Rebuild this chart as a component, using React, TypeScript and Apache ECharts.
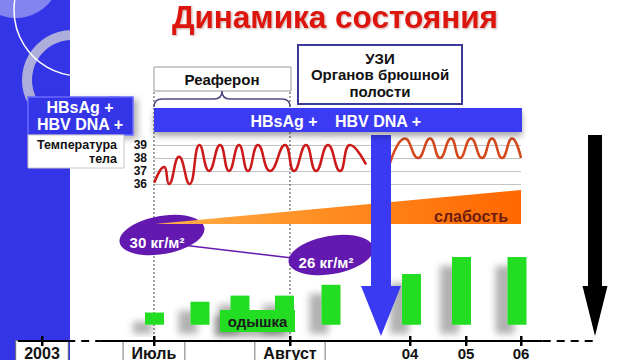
import React, { useEffect, useRef } from 'react';
import * as echarts from 'echarts';

const FONT = '"Liberation Sans", Arial, sans-serif';

// Timeline positions run from 0 to 100 across the slide.
const TICK_POSITIONS = [6.56, 24.06, 45.31, 64.06, 72.81, 81.41];
const TICK_LABELS = ['2003', 'Июль', 'Август', '04', '05', '06'];
const BOXED_TICKS = ['2003', 'Июль', 'Август'];

// Body temperature (°C) before and after the ultrasound examination
const TEMP_BEFORE: [number, number][] = [
  [24.1, 36.1], [25.63, 37.3], [26.41, 36.0], [27.97, 38.1], [29.61, 36.0],
  [31.17, 39.0], [32.66, 37.0], [34.38, 39.0], [35.78, 37.0], [37.34, 39.0],
  [38.75, 37.0], [40.31, 39.0], [42.19, 37.0], [44.53, 39.0], [45.94, 37.0],
  [47.81, 39.0], [49.38, 37.0], [51.25, 39.0], [53.13, 37.0], [54.69, 39.0],
  [57.19, 37.5],
];
const TEMP_AFTER: [number, number][] = [
  [60.94, 37.6], [63.28, 39.5], [65.31, 38.0], [67.19, 39.5], [68.75, 38.0],
  [70.47, 39.5], [71.88, 38.0], [73.59, 39.5], [75.31, 38.0], [76.88, 39.5],
  [78.44, 38.0], [80.0, 39.5], [81.4, 38.0],
];

// Body mass index, kg/m²
const BMI_POSITIONS = [24.53, 50.94];
const BMI_VALUES = [30, 26];

// Weakness, relative intensity
const WEAKNESS_POSITIONS = [24.2, 81.41];
const WEAKNESS_VALUES = [0, 10];

// Shortness of breath, relative severity
const DYSPNEA_POSITIONS = [24.14, 31.25, 37.5, 44.45, 51.72, 64.3, 72.11, 80.78];
const DYSPNEA_VALUES = [1.8, 3.4, 4.3, 4.3, 5.9, 7.5, 10, 10];
const DYSPNEA_MIN = -2.4;

// Event arrows: abdominal ultrasound, then the end of the observed period
const EVENT_POSITIONS = [59.53, 92.97];

// Timeline axis segments: [from, to, dashed]
const AXIS_SEGMENTS: [number, number, number][] = [
  [2.8, 10.5, 0], [10.5, 15.6, 1], [15.6, 84.8, 0], [84.8, 92.7, 1],
];

const SLIDE_W = 640;
const TL_MAX = 100;
const tlPx = (u: number) => (u * SLIDE_W) / TL_MAX;

const TEMP_X_MIN = 24.0625;
const TEMP_X_MAX = 81.40625;

const ARROW_STYLES = [
  { shaft: 20, head: 40, color: '#3a3af2' },
  { shaft: 14, head: 25, color: '#000000' },
];

function txt(x: number, y: number, text: string, size: number, fill: string, align = 'center', z = 12) {
  return {
    type: 'text',
    z,
    x,
    y,
    style: {
      text,
      fill,
      font: `bold ${size}px ${FONT}`,
      textAlign: align,
      textVerticalAlign: 'middle',
      align,
      verticalAlign: 'middle',
    },
  };
}

function buildOption(): any {
  const graphics: any[] = [
    // left decorative band
    { type: 'rect', z: -3, shape: { x: 0, y: 0, width: 70, height: 360 }, style: { fill: '#3535e8' } },
    { type: 'circle', z: -2, shape: { cx: 16, cy: -26, r: 44 }, style: { fill: '#8484f0' } },
    { type: 'ring', z: -2, shape: { cx: 72, cy: 80, r: 50, r0: 40 }, style: { fill: '#aeaedc' } },
    { type: 'circle', z: -2, shape: { cx: 80, cy: 10, r: 66 }, style: { fill: 'transparent', stroke: '#ffffff', lineWidth: 1.5 } },
    { type: 'rect', z: -1, shape: { x: 70, y: 0, width: 80, height: 96 }, style: { fill: '#ffffff' } },

    // Реаферон box and brace
    { type: 'rect', z: 10, shape: { x: 154, y: 67, width: 137, height: 24 }, style: { fill: '#fff', stroke: '#9a9a9a', lineWidth: 1 } },
    txt(222, 79.5, 'Реаферон', 15, '#111'),
    { type: 'bezierCurve', z: 10, shape: { x1: 154, y1: 107, x2: 162, y2: 99, cpx1: 154, cpy1: 99 }, style: { fill: 'transparent', stroke: '#4b4b80', lineWidth: 1.5 } },
    { type: 'line', z: 10, shape: { x1: 162, y1: 99, x2: 214, y2: 99 }, style: { stroke: '#4b4b80', lineWidth: 1.5 } },
    { type: 'bezierCurve', z: 10, shape: { x1: 214, y1: 99, x2: 222, y2: 91, cpx1: 222, cpy1: 99 }, style: { fill: 'transparent', stroke: '#4b4b80', lineWidth: 1.5 } },
    { type: 'bezierCurve', z: 10, shape: { x1: 222, y1: 91, x2: 230, y2: 99, cpx1: 222, cpy1: 99 }, style: { fill: 'transparent', stroke: '#4b4b80', lineWidth: 1.5 } },
    { type: 'line', z: 10, shape: { x1: 230, y1: 99, x2: 282, y2: 99 }, style: { stroke: '#4b4b80', lineWidth: 1.5 } },
    { type: 'bezierCurve', z: 10, shape: { x1: 282, y1: 99, x2: 290, y2: 107, cpx1: 290, cpy1: 99 }, style: { fill: 'transparent', stroke: '#4b4b80', lineWidth: 1.5 } },

    // УЗИ box
    { type: 'rect', z: 10, shape: { x: 298, y: 45, width: 164, height: 59 }, style: { fill: '#fff', stroke: '#3a3a9a', lineWidth: 2 } },
    txt(380, 58, 'УЗИ', 15, '#111'),
    txt(380, 74.5, 'Органов брюшной', 15, '#111'),
    txt(380, 91, 'полости', 15, '#111'),

    // marker boxes on the left
    { type: 'rect', z: 10, shape: { x: 28, y: 97, width: 105, height: 38 }, style: { fill: '#3636e8', stroke: '#6a6aff', lineWidth: 1.5, shadowBlur: 6, shadowColor: 'rgba(0,0,0,0.3)', shadowOffsetX: 4, shadowOffsetY: 3 } },
    txt(80, 107.5, 'HBsAg +', 16, '#ffffff'),
    txt(80, 124, 'HBV DNA +', 16, '#ffffff'),
    { type: 'rect', z: 10, shape: { x: 28, y: 135, width: 96, height: 33 }, style: { fill: '#ffffff', stroke: '#c8c8c8', lineWidth: 1 } },
    txt(117, 144.5, 'Температура', 12.5, '#111', 'right'),
    txt(117, 158.5, 'тела', 12.5, '#111', 'right'),

    // marker bar along the timeline
    { type: 'rect', z: 10, shape: { x: 154, y: 108, width: 368, height: 24 }, style: { fill: '#3a3af4', shadowBlur: 6, shadowColor: 'rgba(0,0,0,0.35)', shadowOffsetY: 4 } },
    txt(284, 121, 'HBsAg +', 16, '#ffffff'),
    txt(378, 121, 'HBV DNA +', 16, '#ffffff'),

    // symptom labels
    { type: 'rect', z: 10, shape: { x: 220, y: 310, width: 75, height: 22 }, style: { fill: '#22dd22', shadowBlur: 6, shadowColor: 'rgba(0,0,0,0.3)', shadowOffsetX: -6, shadowOffsetY: 5 } },
    txt(257.5, 321.5, 'одышка', 15, '#1a1a1a'),
    txt(471, 216, 'слабость', 16, '#6b1c0c'),
  ];

  const gridBase = { outerBoundsMode: 'none', containLabel: false };

  return {
    animation: false,
    backgroundColor: '#ffffff',
    title: {
      text: 'Динамика состояния',
      left: 172,
      top: 1,
      padding: 0,
      textStyle: {
        fontFamily: FONT,
        fontSize: 31.5,
        fontWeight: 'bold',
        color: '#dd130e',
        textShadowColor: 'rgba(90,0,0,0.35)',
        textShadowBlur: 2,
        textShadowOffsetX: 1,
        textShadowOffsetY: 1,
      },
    },
    grid: [
      { ...gridBase, left: tlPx(TEMP_X_MIN), right: SLIDE_W - tlPx(TEMP_X_MAX), top: 145, height: 39 },
      { ...gridBase, left: 0, right: 0, top: 190, height: 34 },
      { ...gridBase, left: 0, right: 0, top: 217, height: 75 },
      { ...gridBase, left: 0, right: 0, top: 257, height: 84 },
    ],
    xAxis: [
      { type: 'value', gridIndex: 0, min: TEMP_X_MIN, max: TEMP_X_MAX, show: false },
      { type: 'value', gridIndex: 1, min: 0, max: TL_MAX, show: false },
      { type: 'value', gridIndex: 2, min: 0, max: TL_MAX, show: false },
      {
        type: 'value',
        gridIndex: 3,
        min: 0,
        max: TL_MAX,
        z: 3,
        axisLine: { show: false },
        splitLine: { show: false },
        axisTick: { show: false },
        axisLabel: {
          show: true,
          customValues: TICK_POSITIONS,
          margin: 4,
          formatter: (v: number) => {
            let idx = 0;
            TICK_POSITIONS.forEach((p, i) => {
              if (Math.abs(p - v) < Math.abs(TICK_POSITIONS[idx] - v)) idx = i;
            });
            const label = TICK_LABELS[idx];
            return BOXED_TICKS.includes(label) ? `{box|${label}}` : `{plain|${label}}`;
          },
          rich: {
            box: {
              fontFamily: FONT,
              fontSize: 16,
              fontWeight: 'bold',
              color: '#111',
              backgroundColor: '#fff',
              borderColor: '#777',
              borderWidth: 1,
              padding: [4, 8, 4, 8],
              lineHeight: 16,
            },
            plain: {
              fontFamily: FONT,
              fontSize: 15,
              fontWeight: 'bold',
              color: '#111',
              lineHeight: 16,
            },
          },
        },
      },
    ],
    yAxis: [
      {
        type: 'value',
        gridIndex: 0,
        min: 36,
        max: 39,
        interval: 1,
        axisLine: { show: false },
        axisTick: { show: false },
        axisLabel: { show: true, margin: 7, fontFamily: FONT, fontSize: 12, lineHeight: 12, fontWeight: 'bold', color: '#111' },
        splitLine: { show: true, lineStyle: { color: '#c4c4c4', width: 1 } },
      },
      { type: 'value', gridIndex: 1, min: 0, max: 10, show: false },
      { type: 'value', gridIndex: 2, min: 20, max: 35, show: false },
      { type: 'value', gridIndex: 3, min: DYSPNEA_MIN, max: 10, show: false },
    ],
    series: [
      {
        name: 'Температура до УЗИ',
        type: 'line',
        xAxisIndex: 0,
        yAxisIndex: 0,
        data: TEMP_BEFORE,
        smooth: 0.5,
        clip: false,
        showSymbol: false,
        symbol: 'none',
        lineStyle: { color: '#cc1a1a', width: 2.5 },
        z: 3,
      },
      {
        name: 'Температура после УЗИ',
        type: 'line',
        xAxisIndex: 0,
        yAxisIndex: 0,
        data: TEMP_AFTER,
        smooth: 0.5,
        clip: false,
        showSymbol: false,
        symbol: 'none',
        lineStyle: { color: '#d4481c', width: 2.5 },
        z: 3,
      },
      {
        name: 'слабость',
        type: 'line',
        xAxisIndex: 1,
        yAxisIndex: 1,
        data: WEAKNESS_POSITIONS.map((p, i) => [p, WEAKNESS_VALUES[i]]),
        symbol: 'none',
        lineStyle: { width: 0 },
        areaStyle: {
          opacity: 1,
          color: new echarts.graphic.LinearGradient(0, 0, 1, 0, [
            { offset: 0, color: '#ffb04a' },
            { offset: 0.4, color: '#ff9226' },
            { offset: 1, color: '#ff6600' },
          ]),
        },
        z: 5,
      },
      {
        name: 'ИМТ',
        type: 'line',
        xAxisIndex: 2,
        yAxisIndex: 2,
        data: BMI_POSITIONS.map((p, i) => [p, BMI_VALUES[i]]),
        symbol: 'none',
        lineStyle: { color: '#6318b0', width: 1.5 },
        z: 3,
      },
      {
        name: 'ИМТ метки',
        type: 'scatter',
        xAxisIndex: 2,
        yAxisIndex: 2,
        data: BMI_POSITIONS.map((p, i) => [p, BMI_VALUES[i]]),
        symbol: 'circle',
        symbolSize: [86, 38],
        symbolRotate: 10,
        symbolOffset: [5, -7],
        itemStyle: { color: '#6318b0', opacity: 1 },
        label: {
          show: true,
          position: 'inside',
          offset: [-5, 7],
          formatter: (p: any) => `${BMI_VALUES[p.dataIndex]} кг/м²`,
          fontFamily: FONT,
          fontSize: 15,
          fontWeight: 'bold',
          color: '#ffffff',
        },
        z: 4,
      },
      {
        name: 'одышка',
        type: 'bar',
        xAxisIndex: 3,
        yAxisIndex: 3,
        data: DYSPNEA_POSITIONS.map((p, i) => [p, DYSPNEA_VALUES[i]]),
        barWidth: 19,
        itemStyle: {
          color: '#22dd22',
          shadowBlur: 7,
          shadowColor: 'rgba(0,0,0,0.3)',
          shadowOffsetX: -12,
          shadowOffsetY: 9,
        },
        markLine: {
          silent: true,
          symbol: ['none', 'none'],
          label: { show: false },
          emphasis: { disabled: true },
          data: AXIS_SEGMENTS.map(([a, b, dashed]) => [
            { coord: [a, DYSPNEA_MIN], lineStyle: { color: '#000', width: 2, type: dashed ? [8, 6] : 'solid' } },
            { coord: [b, DYSPNEA_MIN] },
          ]),
        },
        z: 2,
      },
      {
        name: 'Июль / Август',
        type: 'custom',
        coordinateSystem: 'cartesian2d',
        xAxisIndex: 3,
        yAxisIndex: 3,
        clip: false,
        data: [TICK_POSITIONS[1], TICK_POSITIONS[2]].map((p) => [p, 0]),
        renderItem: (_params: any, api: any) => {
          const pt = api.coord([api.value(0), DYSPNEA_MIN]);
          return {
            type: 'line',
            shape: { x1: pt[0], y1: 92, x2: pt[0], y2: pt[1] },
            style: { stroke: '#444', lineWidth: 1, lineDash: [2, 2] },
          };
        },
        z: 1,
      },
      {
        name: 'Деления шкалы',
        type: 'custom',
        coordinateSystem: 'cartesian2d',
        xAxisIndex: 3,
        yAxisIndex: 3,
        clip: false,
        data: TICK_POSITIONS.map((p) => [p, 0]),
        renderItem: (_params: any, api: any) => {
          const pt = api.coord([api.value(0), DYSPNEA_MIN]);
          return {
            type: 'rect',
            shape: { x: pt[0] - 1, y: pt[1] - 5, width: 2.5, height: 10 },
            style: { fill: '#000' },
          };
        },
        z: 7,
      },
      {
        name: 'События',
        type: 'custom',
        coordinateSystem: 'cartesian2d',
        xAxisIndex: 3,
        yAxisIndex: 3,
        clip: false,
        data: EVENT_POSITIONS.map((p) => [p, 0]),
        renderItem: (params: any, api: any) => {
          const s = ARROW_STYLES[params.dataIndex];
          const pt = api.coord([api.value(0), DYSPNEA_MIN]);
          const x = pt[0];
          const tip = pt[1] - 5;
          const headTop = tip - 50;
          return {
            type: 'group',
            children: [
              { type: 'rect', shape: { x: x - s.shaft / 2, y: 135, width: s.shaft, height: headTop - 135 + 1 }, style: { fill: s.color } },
              { type: 'polygon', shape: { points: [[x - s.head / 2, headTop], [x + s.head / 2, headTop], [x, tip]] }, style: { fill: s.color } },
            ],
          };
        },
        z: 6,
      },
    ],
    graphic: { elements: graphics },
  };
}

export default function App() {
  const ref = useRef<HTMLDivElement>(null);
  useEffect(() => {
    if (!ref.current) return;
    const chart = echarts.init(ref.current, undefined, { renderer: 'svg' });
    chart.setOption(buildOption());
    return () => chart.dispose();
  }, []);
  return (
    <div
      ref={ref}
      style={{ position: 'fixed', left: 0, top: 0, width: 640, height: 360, background: '#ffffff' }}
    />
  );
}
